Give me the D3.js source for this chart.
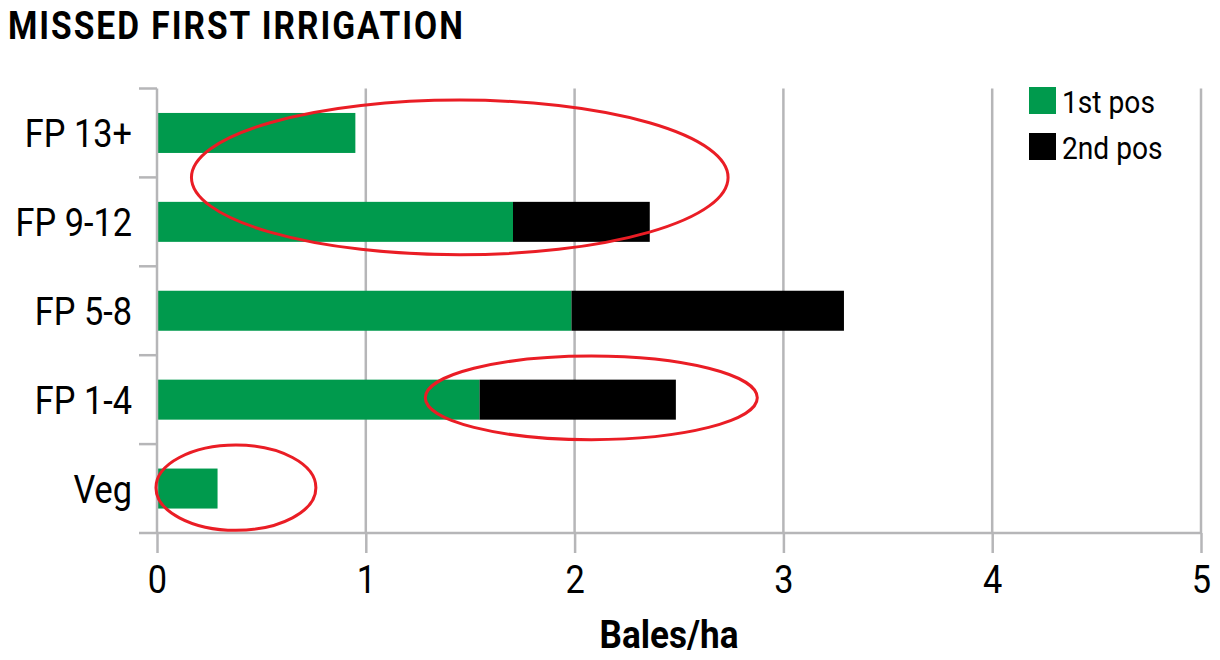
<!DOCTYPE html>
<html>
<head>
<meta charset="utf-8">
<script src="https://cdn.jsdelivr.net/npm/d3@7"></script>
<style>
  body { margin: 0; background: #fff; }
  svg text { font-family: Roboto, "Noto Sans", sans-serif; fill: #000; }
  .narrow { transform-box: fill-box; }
</style>
</head>
<body>
<div id="chart"></div>
<script>
// ---- data ----
const categories = ["FP 13+", "FP 9-12", "FP 5-8", "FP 1-4", "Veg"];
const firstPos = [0.95, 1.705, 1.985, 1.545, 0.29];
const secondPos = [0, 0.655, 1.305, 0.94, 0];
const xTicks = [0, 1, 2, 3, 4, 5];
const seriesKeys = ["1st pos", "2nd pos"];
// red call-out ellipses, in data units (value, band)
const highlights = [
  { cat: "FP 13+", shift: 0.5, cx: 1.45, rx: 1.285, ry: 0.87 },
  { cat: "FP 1-4", shift: -0.02, cx: 2.08, rx: 0.795, ry: 0.47 },
  { cat: "Veg", shift: -0.01, cx: 0.378, rx: 0.383, ry: 0.48 }
];

const COLORS = { first: "#009a4d", second: "#000000", grid: "#b6b6b8", ring: "#ea1d25" };
const SQUEEZE = 0.88;

const width = 1220, height = 660;
const margin = { top: 88.5, right: 19, bottom: 127, left: 157 };

const svg = d3.select("#chart").append("svg")
  .attr("width", width)
  .attr("height", height);

const x = d3.scaleLinear().domain([0, 5]).range([margin.left, width - margin.right]);
const y = d3.scaleBand().domain(categories)
  .range([margin.top, height - margin.bottom])
  .paddingInner(0.55).paddingOuter(0.275);

const rows = categories.map((c, i) => ({ cat: c, "1st pos": firstPos[i], "2nd pos": secondPos[i] }));
const stacked = d3.stack().keys(seriesKeys)(rows);
const color = d3.scaleOrdinal().domain(seriesKeys).range([COLORS.first, COLORS.second]);

const y0 = y.range()[0], y1 = y.range()[1];

// title
svg.append("text")
  .attr("class", "narrow")
  .attr("x", 8).attr("y", 39)
  .attr("font-size", "39px").attr("font-weight", "bold")
  .attr("letter-spacing", "2.3px")
  .style("transform-origin", "left")
  .style("transform", `scaleX(${SQUEEZE - 0.02})`)
  .text("MISSED FIRST IRRIGATION");

// vertical grid
svg.append("g")
  .selectAll("line")
  .data(xTicks.filter(d => d > 0))
  .join("line")
  .attr("x1", d => x(d)).attr("x2", d => x(d))
  .attr("y1", y0).attr("y2", y1)
  .attr("stroke", COLORS.grid).attr("stroke-width", 2.5);

// bars
svg.append("g")
  .selectAll("g")
  .data(stacked)
  .join("g")
  .attr("fill", d => color(d.key))
  .selectAll("rect")
  .data(d => d.filter(s => s[1] > s[0]))
  .join("rect")
  .attr("x", d => x(d[0]))
  .attr("width", d => x(d[1]) - x(d[0]))
  .attr("y", d => y(d.data.cat))
  .attr("height", y.bandwidth());

// x axis
const xAxis = svg.append("g")
  .attr("transform", `translate(0,${y1})`)
  .call(d3.axisBottom(x).tickValues(xTicks).tickFormat(d3.format("d")).tickSize(20).tickPadding(12).tickSizeOuter(0));
xAxis.select(".domain").remove();
xAxis.append("line")
  .attr("x1", margin.left - 18).attr("x2", x(5))
  .attr("stroke", COLORS.grid).attr("stroke-width", 2.5);
xAxis.selectAll(".tick line").attr("stroke", COLORS.grid).attr("stroke-width", 2.5);
xAxis.selectAll(".tick text")
  .attr("class", "narrow")
  .attr("font-size", "39px").attr("fill", "#000")
  .style("transform-origin", "center")
  .style("transform", `scaleX(${SQUEEZE})`);

// y axis: line plus boundary ticks between bands
const yAxis = svg.append("g");
yAxis.append("line")
  .attr("x1", margin.left).attr("x2", margin.left)
  .attr("y1", y0).attr("y2", y1)
  .attr("stroke", COLORS.grid).attr("stroke-width", 2.5);
yAxis.selectAll("line.btick")
  .data(d3.range(categories.length))
  .join("line")
  .attr("class", "btick")
  .attr("x1", margin.left - 18).attr("x2", margin.left)
  .attr("y1", i => y0 + i * y.step()).attr("y2", i => y0 + i * y.step())
  .attr("stroke", COLORS.grid).attr("stroke-width", 2.5);
yAxis.selectAll("text")
  .data(categories)
  .join("text")
  .attr("class", "narrow")
  .attr("x", margin.left - 25)
  .attr("y", d => y(d) + y.bandwidth() / 2)
  .attr("dy", "0.36em")
  .attr("text-anchor", "end")
  .attr("font-size", "39px")
  .style("transform-origin", "right")
  .style("transform", `scaleX(${SQUEEZE})`)
  .text(d => d);

// axis title
svg.append("text")
  .attr("class", "narrow")
  .attr("x", 669).attr("y", 648)
  .attr("text-anchor", "middle")
  .attr("font-size", "39px").attr("font-weight", "bold")
  .style("transform-origin", "center")
  .style("transform", "scaleX(0.9)")
  .text("Bales/ha");

// red call-outs
svg.append("g")
  .selectAll("ellipse")
  .data(highlights)
  .join("ellipse")
  .attr("cx", d => x(d.cx))
  .attr("cy", d => y(d.cat) + y.bandwidth() / 2 + d.shift * y.step())
  .attr("rx", d => x(d.rx) - x(0))
  .attr("ry", d => d.ry * y.step())
  .attr("fill", "none")
  .attr("stroke", COLORS.ring)
  .attr("stroke-width", 3);

// legend
const legend = svg.append("g").attr("transform", "translate(1029,87)");
const item = legend.selectAll("g")
  .data(seriesKeys)
  .join("g")
  .attr("transform", (d, i) => `translate(0,${i * 46})`);
item.append("rect")
  .attr("width", 27).attr("height", 27)
  .attr("fill", d => color(d));
item.append("text")
  .attr("class", "narrow")
  .attr("x", 33).attr("y", 26)
  .attr("font-size", "32px")
  .style("transform-origin", "left")
  .style("transform", `scaleX(${SQUEEZE})`)
  .text(d => d);
</script>
</body>
</html>
